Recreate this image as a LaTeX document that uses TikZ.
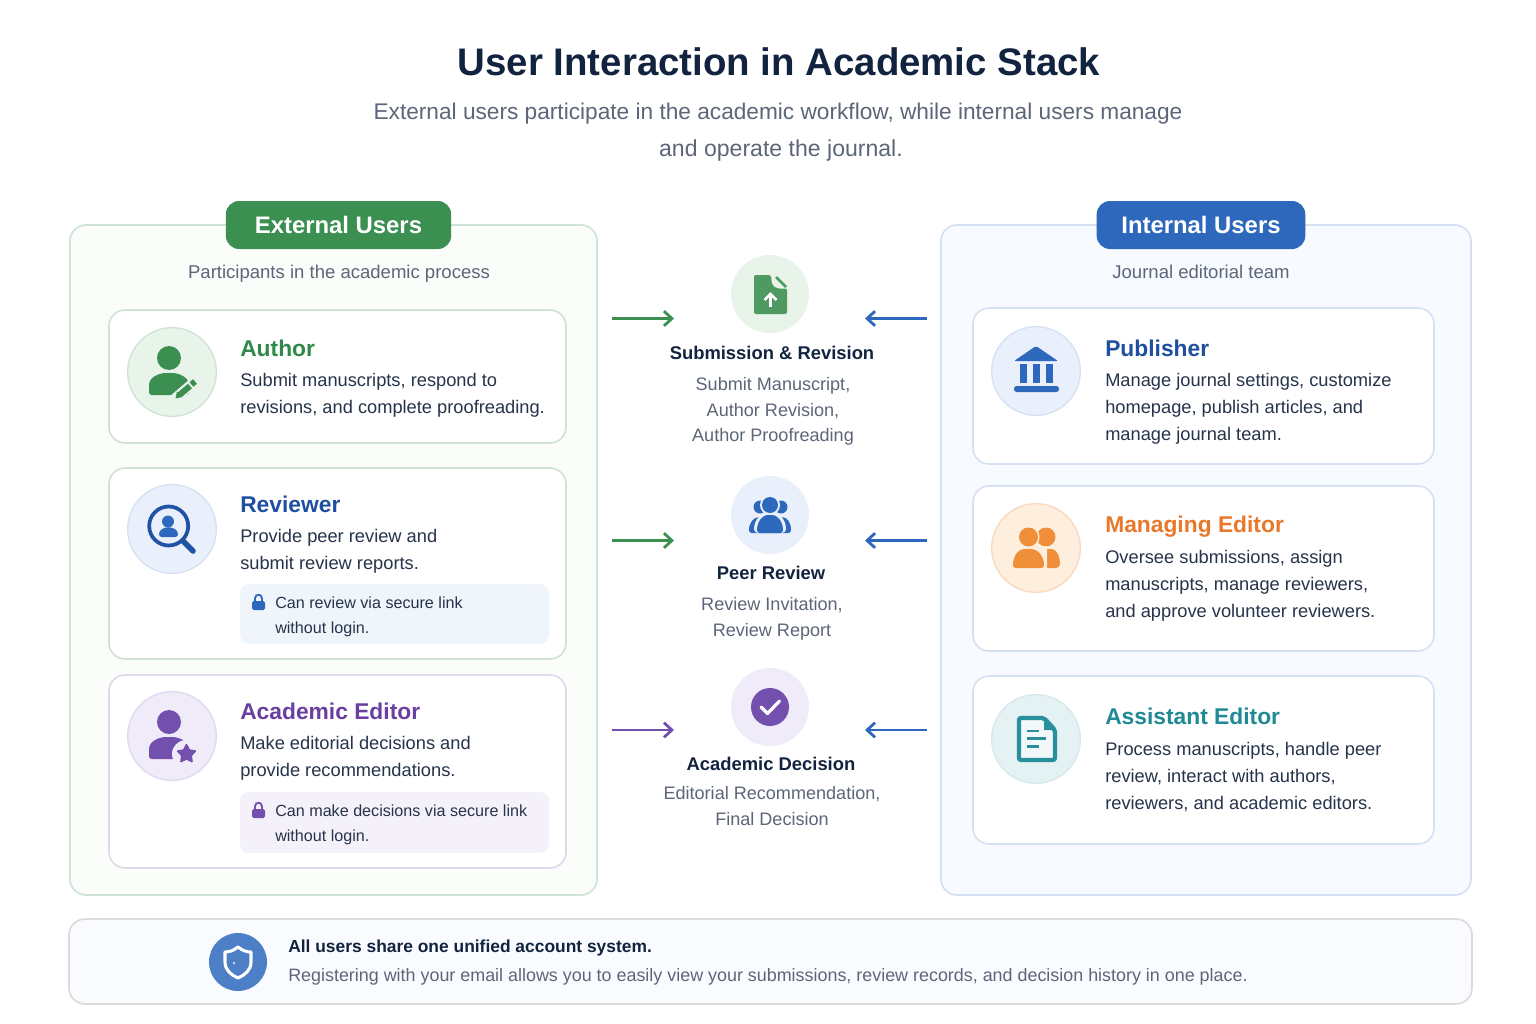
\documentclass[tikz,border=0pt]{standalone}
\usepackage{fontspec}
\usepackage{xcolor}
\setmainfont{Liberation Sans}
\usetikzlibrary{shapes.geometric}
\usetikzlibrary{arrows.meta}

\definecolor{navy}{HTML}{12233F}
\definecolor{bodytext}{HTML}{26334A}
\definecolor{greytext}{HTML}{5D6678}
\definecolor{greenmain}{HTML}{3B8F50}
\definecolor{greentitle}{HTML}{2F8A4A}
\definecolor{greenline}{HTML}{CFE3D4}
\definecolor{greenpale}{HTML}{E8F3EA}
\definecolor{bluemain}{HTML}{2E68BD}
\definecolor{bluetitle}{HTML}{1F4FA0}
\definecolor{blueline}{HTML}{D5E1F3}
\definecolor{bluepale}{HTML}{E9F0FB}
\definecolor{purplemain}{HTML}{7450AE}
\definecolor{purpletitle}{HTML}{6A3FA0}
\definecolor{purpleline}{HTML}{E0D8EE}
\definecolor{purplepale}{HTML}{F0EBF8}
\definecolor{orangemain}{HTML}{F08F3A}
\definecolor{orangetitle}{HTML}{E8792B}
\definecolor{orangeline}{HTML}{F9D9BD}
\definecolor{orangepale}{HTML}{FEEEDE}
\definecolor{tealmain}{HTML}{27909A}
\definecolor{tealtitle}{HTML}{1F8A94}
\definecolor{tealline}{HTML}{D5E8EC}
\definecolor{tealpale}{HTML}{E4F2F4}

\tikzset{
  panel/.style={draw, line width=1.25pt, rounded corners=12pt},
  card/.style={panel, fill=white, line width=1.2pt},
  badge/.style={rounded corners=10pt, text=white, font=\fontsize{17.9}{22}\selectfont\bfseries},
  iconbg/.style={circle, draw, line width=1pt, minimum size=66.5pt, inner sep=0pt},
  stepbg/.style={circle, minimum size=58.5pt, inner sep=0pt},
  cardtitle/.style={anchor=west, inner sep=0pt, font=\fontsize{17.1}{22}\selectfont\bfseries},
  cardtext/.style={anchor=west, inner sep=0pt, align=left, text=bodytext, font=\fontsize{13.7}{20.25}\selectfont},
  notetext/.style={anchor=west, inner sep=0pt, align=left, text=bodytext, font=\fontsize{12.1}{18.8}\selectfont},
  steptitle/.style={inner sep=0pt, text=navy, font=\fontsize{13.8}{18}\selectfont\bfseries},
  steptext/.style={inner sep=0pt, align=center, text=greytext, font=\fontsize{13.55}{19.2}\selectfont},
  subtext/.style={inner sep=0pt, text=greytext, font=\fontsize{13.9}{18}\selectfont},
  flow/.style={line width=2.1pt, -{Straight Barb[length=6pt,width=11pt,line width=2.1pt]}},
}

% head and shoulders, the white gap is drawn by whoever calls it
\newcommand{\personicon}[3]{%
  \fill [#1] (#2, #3) circle (12);
  \fill [#1, rounded corners=2pt] (#2-20, #3+37) -- (#2-20, #3+30)
    .. controls (#2-20, #3+19) and (#2-10, #3+15) .. (#2, #3+15)
    .. controls (#2+10, #3+15) and (#2+20, #3+19) .. (#2+20, #3+30)
    -- (#2+20, #3+37) -- cycle;
}
\newcommand{\lockicon}[3]{%
  \draw [#1, line width=1.4pt] (#2-3.5, #3+7) -- (#2-3.5, #3+3.5)
    .. controls (#2-3.5, #3-1.5) and (#2+3.5, #3-1.5) .. (#2+3.5, #3+3.5) -- (#2+3.5, #3+7);
  \fill [#1, rounded corners=1.2pt] (#2-6.5, #3+6) rectangle (#2+6.5, #3+15);
}

\begin{document}
\begin{tikzpicture}[x=0.75pt, y=-0.75pt]
\useasboundingbox (0, 0) rectangle (1536, 1024);
\fill [white] (0, 0) rectangle (1536, 1024);

\node (title) at (779, 62) [text=navy, font=\fontsize{28.8}{34}\selectfont\bfseries] {User Interaction in Academic Stack};
\node (subone) at (778, 114) [subtext, font=\fontsize{17}{22}\selectfont] {External users participate in the academic workflow, while internal users manage};
\node (subtwo) at (781, 151) [subtext, font=\fontsize{17.3}{22}\selectfont] {and operate the journal.};

% two big panels
\draw [panel, draw=greenline, fill=greenpale!18] (70, 225) rectangle (597, 895);
\draw [panel, draw=blueline, fill=bluepale!35] (941, 225) rectangle (1471, 895);
\node (extbadge) at (338.5, 225) [badge, fill=greenmain, minimum width=169pt, minimum height=36pt] {External Users};
\node (intbadge) at (1201, 225) [badge, fill=bluemain, minimum width=156.5pt, minimum height=36pt] {Internal Users};
\node (extsub) at (339, 274) [subtext] {Participants in the academic process};
\node (intsub) at (1201, 272) [subtext] {Journal editorial team};

% external cards
\draw [card, draw=greenline] (109, 310) rectangle (566, 443);
\draw [card, draw=greenline] (109, 468) rectangle (566, 659);
\draw [card, draw=purpleline!80!greenline] (109, 675) rectangle (566, 868);

\node (authoricon) at (172, 372) [iconbg, draw=greenline, fill=greenpale] {};
\personicon{greenmain}{169}{358}
\draw [greenpale, line width=7.5pt] (172, 401) -- (193, 383);
\draw [greenmain, line width=4.5pt] (179.5, 395) -- (190, 386);
\draw [greenmain, line width=4.5pt] (191.5, 384.5) -- (195, 381.5);
\fill [greenmain] (175.5, 398.5) -- (177, 391.5) -- (182, 397) -- cycle;
\node (authortitle) at (240, 348) [cardtitle, text=greentitle] {Author};
\node (authortext) at (240, 395.5) [cardtext] {Submit manuscripts, respond to\\revisions, and complete proofreading.};

\node (reviewicon) at (172, 529) [iconbg, draw=blueline, fill=bluepale] {};
\draw [bluetitle!85!bluemain, line width=2.8pt] (168.7, 526) circle (19.5);
\draw [bluetitle!85!bluemain, line width=4.2pt, line cap=round] (183, 541) -- (193, 551);
\fill [bluemain] (168, 521.5) circle (6);
\fill [bluemain, rounded corners=2pt] (159, 537) .. controls (159, 525) and (178, 525) .. (178, 537) -- cycle;
\node (reviewtitle) at (240, 504) [cardtitle, text=bluetitle] {Reviewer};
\node (reviewtext) at (240, 551.5) [cardtext] {Provide peer review and\\submit review reports.};
\fill [bluepale!70, rounded corners=7pt] (240, 584) rectangle (549, 644);
\lockicon{bluemain}{258.5}{595}
\node (reviewnote) at (275, 616.5) [notetext] {Can review via secure link\\without login.};

\node (editoricon) at (172, 736) [iconbg, draw=purpleline, fill=purplepale] {};
\personicon{purplemain}{169}{722}
\fill [purplepale] (186, 754) circle (14);
\node (editorstar) at (186.5, 754) [star, star points=5, star point ratio=1.9, fill=purplemain, draw=purplemain, line width=1.2pt, line join=round, minimum size=14pt, inner sep=0pt] {};
\node (editortitle) at (240, 711) [cardtitle, text=purpletitle] {Academic Editor};
\node (editortext) at (240, 758.5) [cardtext] {Make editorial decisions and\\provide recommendations.};
\fill [purplepale!70, rounded corners=7pt] (240, 792) rectangle (549, 853);
\lockicon{purplemain}{258.5}{803}
\node (editornote) at (275, 824.5) [notetext] {Can make decisions via secure link\\without login.};

% internal cards
\draw [card, draw=blueline] (973, 308) rectangle (1434, 464);
\draw [card, draw=blueline] (973, 486) rectangle (1434, 651);
\draw [card, draw=blueline] (973, 676) rectangle (1434, 844);

\node (pubicon) at (1036, 371) [iconbg, draw=blueline, fill=bluepale] {};
\fill [bluemain, rounded corners=1pt] (1036, 346) -- (1058, 361) -- (1014, 361) -- cycle;
\fill [bluemain] (1020, 364) rectangle (1027, 383);
\fill [bluemain] (1033, 364) rectangle (1039.5, 383);
\fill [bluemain] (1046, 364) rectangle (1053, 383);
\fill [bluemain, rounded corners=2pt] (1014, 386) rectangle (1059, 392);
\node (pubtitle) at (1105, 348) [cardtitle, text=bluetitle] {Publisher};
\node (pubtext) at (1105, 409) [cardtext] {Manage journal settings, customize\\homepage, publish articles, and\\manage journal team.};

\node (managericon) at (1036, 548) [iconbg, draw=orangeline, fill=orangepale] {};
\fill [orangemain] (1046, 537) circle (9.5);
\fill [orangemain, rounded corners=3pt] (1040, 568) -- (1040, 549) -- (1048, 549)
  .. controls (1056, 549) and (1060, 556) .. (1060, 568) -- cycle;
\fill [orangepale] (1028, 537) circle (11.5);
\fill [orangepale] (1010, 568) -- (1010, 546) -- (1047, 546) -- (1047, 569) -- cycle;
\fill [orangemain] (1028.5, 537) circle (9.5);
\fill [orangemain, rounded corners=2pt] (1013, 568) .. controls (1013, 556) and (1018, 549) .. (1028, 549)
  .. controls (1038, 549) and (1044, 556) .. (1044, 568) -- cycle;
\node (managertitle) at (1105, 527) [cardtitle, text=orangetitle] {Managing Editor};
\node (managertext) at (1105, 586) [cardtext] {Oversee submissions, assign\\manuscripts, manage reviewers,\\and approve volunteer reviewers.};

\node (assisticon) at (1036, 739) [iconbg, draw=tealline, fill=tealpale] {};
\draw [tealmain, fill=tealpale!50, line width=3.2pt, line join=round, rounded corners=1.5pt] (1019, 718) -- (1019, 760) -- (1055, 760) -- (1055, 730) -- (1044, 718) -- cycle;
\fill [tealmain] (1044, 718) -- (1044, 730) -- (1055, 730) -- cycle;
\draw [tealmain, line width=2.2pt] (1027, 731) -- (1039, 731);
\draw [tealmain, line width=2.2pt] (1027, 738.5) -- (1046, 738.5);
\draw [tealmain, line width=2.2pt] (1027, 746.5) -- (1039, 746.5);
\node (assisttitle) at (1105, 716) [cardtitle, text=tealtitle] {Assistant Editor};
\node (assisttext) at (1105, 777) [cardtext] {Process manuscripts, handle peer\\review, interact with authors,\\reviewers, and academic editors.};

% workflow steps in the middle
\node (subicon) at (770, 294) [stepbg, fill=greenpale] {};
\fill [greenmain!90!white, rounded corners=1.5pt] (754, 275) -- (771, 275) -- (772, 285) -- (777, 288.5) -- (787, 288.5) -- (787, 314) -- (754, 314) -- cycle;
\draw [greenmain!90!white, line width=1.9pt] (776, 277) -- (786, 287);
\draw [white, line width=2pt] (770.5, 307) -- (770.5, 295);
\draw [white, line width=2pt] (764.5, 300) -- (770.5, 294) -- (776.5, 300);
\node (subtitle) at (772, 353) [steptitle] {Submission \& Revision};
\node (subtext) at (773, 411.5) [steptext] {Submit Manuscript,\\Author Revision,\\Author Proofreading};

\node (peericon) at (770, 515) [stepbg, fill=bluepale] {};
\fill [bluemain] (760, 507) circle (6.5);
\fill [bluemain] (781, 507) circle (6.5);
\fill [bluemain, rounded corners=2pt] (749, 533) .. controls (749, 522) and (754, 517) .. (762, 517) -- (779, 517) .. controls (787, 517) and (791, 522) .. (791, 533) -- cycle;
\fill [bluepale] (770, 505) circle (10);
\fill [bluepale, rounded corners=3pt] (754, 533) .. controls (754, 518) and (764, 512) .. (770, 512) .. controls (777, 512) and (786, 518) .. (786, 533) -- cycle;
\fill [bluemain] (770, 505) circle (8);
\fill [bluemain, rounded corners=2pt] (757, 533) .. controls (757, 520) and (764, 515) .. (770, 515) .. controls (776, 515) and (783, 520) .. (783, 533) -- cycle;
\node (peertitle) at (771, 573) [steptitle] {Peer Review};
\node (peertext) at (772, 619) [steptext] {Review Invitation,\\Review Report};

\node (deciicon) at (770, 707) [stepbg, fill=purplepale] {};
\node (decidisc) at (770, 707) [circle, fill=purplemain, minimum size=28.5pt, inner sep=0pt] {};
\draw [white, line width=2.4pt, line cap=round, line join=round] (761, 707) -- (767.5, 713.5) -- (779.5, 701);
\node (decititle) at (771, 764) [steptitle] {Academic Decision};
\node (decitext) at (772, 806) [steptext] {Editorial Recommendation,\\Final Decision};

% arrows
\coordinate (subleft) at (612, 318.5);
\coordinate (subleftend) at (674, 318.5);
\coordinate (subright) at (927, 318.5);
\coordinate (subrightend) at (865, 318.5);
\coordinate (peerleft) at (612, 540.5);
\coordinate (peerleftend) at (674, 540.5);
\coordinate (peerright) at (927, 540.5);
\coordinate (peerrightend) at (865, 540.5);
\coordinate (decileft) at (612, 730);
\coordinate (decileftend) at (674, 730);
\coordinate (deciright) at (927, 730);
\coordinate (decirightend) at (865, 730);
\draw [flow, greenmain] (subleft) -- (subleftend);
\draw [flow, bluemain] (subright) -- (subrightend);
\draw [flow, greenmain] (peerleft) -- (peerleftend);
\draw [flow, bluemain] (peerright) -- (peerrightend);
\draw [flow, purplemain] (decileft) -- (decileftend);
\draw [flow, bluemain] (deciright) -- (decirightend);

% footer
\draw [panel, draw=black!14, fill=bluepale!25] (69, 919) rectangle (1472, 1004);
\node (shielddisc) at (238, 962) [circle, fill=bluemain!85!white, minimum size=43.5pt, inner sep=0pt] {};
\draw [white, line width=2.3pt, line join=round] (238, 947) .. controls (243, 951) and (247, 952) .. (251, 952)
  -- (251, 962) .. controls (251, 970) and (245, 975) .. (238, 978)
  .. controls (231, 975) and (225, 970) .. (225, 962) -- (225, 952)
  .. controls (229, 952) and (233, 951) .. (238, 947) -- cycle;
\fill [white!70!bluemain] (234, 963) circle (1.5);
\node (footone) at (288, 948) [inner sep=0pt, anchor=west, text=navy, font=\fontsize{13.05}{18}\selectfont\bfseries] {All users share one unified account system.};
\node (foottwo) at (288, 977) [inner sep=0pt, anchor=west, text=greytext, font=\fontsize{13.43}{18}\selectfont] {Registering with your email allows you to easily view your submissions, review records, and decision history in one place.};
\end{tikzpicture}
\end{document}
